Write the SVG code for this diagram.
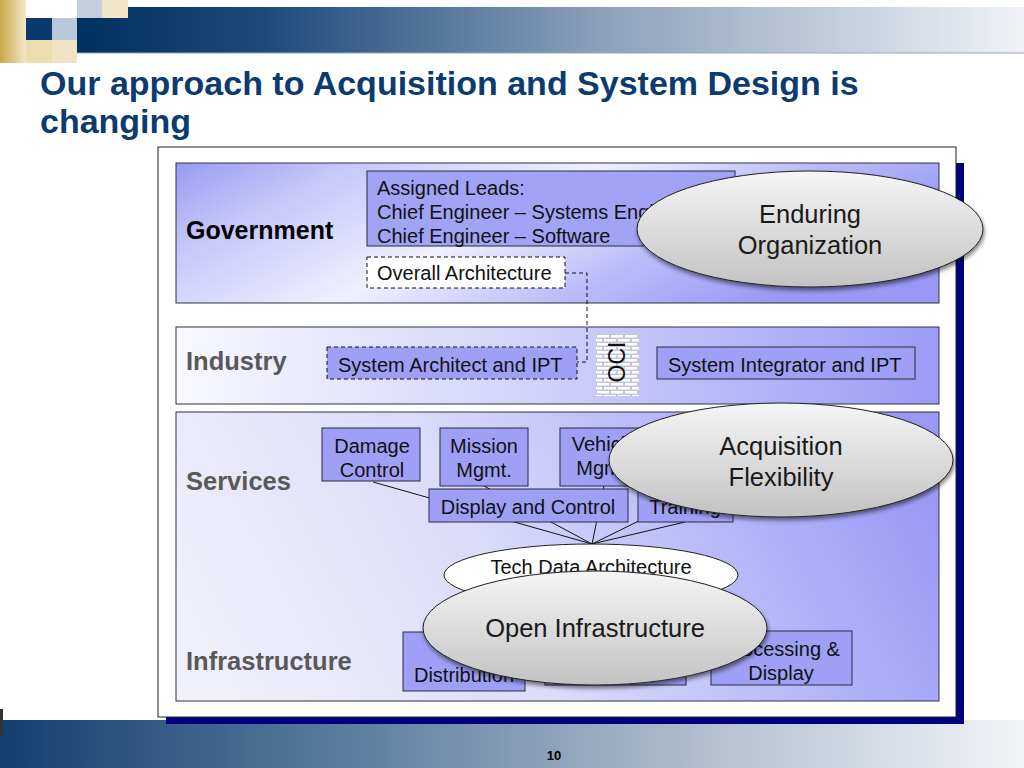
<svg xmlns="http://www.w3.org/2000/svg" width="1024" height="768" viewBox="0 0 1024 768">
<defs>
  <linearGradient id="topbar" x1="0" y1="0" x2="1" y2="0">
    <stop offset="0" stop-color="#00305f"/>
    <stop offset="0.2" stop-color="#1d4b7c"/>
    <stop offset="0.55" stop-color="#8aa0bb"/>
    <stop offset="1" stop-color="#f0f2f6"/>
  </linearGradient>
  <linearGradient id="botbar" x1="0" y1="0" x2="1" y2="0">
    <stop offset="0" stop-color="#123f70"/>
    <stop offset="0.35" stop-color="#5f7fa0"/>
    <stop offset="0.7" stop-color="#b4c1d0"/>
    <stop offset="1" stop-color="#f2f4f7"/>
  </linearGradient>
  <linearGradient id="gold" x1="0" y1="0" x2="1" y2="0">
    <stop offset="0" stop-color="#c8a848"/>
    <stop offset="1" stop-color="#f3e8c8"/>
  </linearGradient>
  <linearGradient id="gov" x1="0" y1="0" x2="1" y2="0.35">
    <stop offset="0" stop-color="#9a9af2"/>
    <stop offset="0.2" stop-color="#c6c6fa"/>
    <stop offset="0.5" stop-color="#f0f0ff"/>
    <stop offset="0.75" stop-color="#bcbcfa"/>
    <stop offset="1" stop-color="#9999f5"/>
  </linearGradient>
  <linearGradient id="ind" x1="0" y1="0" x2="1" y2="0">
    <stop offset="0" stop-color="#f8f8fe"/>
    <stop offset="0.45" stop-color="#d4d4fb"/>
    <stop offset="1" stop-color="#9b9bf6"/>
  </linearGradient>
  <linearGradient id="svc" x1="0" y1="0.6" x2="1" y2="0.4">
    <stop offset="0" stop-color="#f0f0fb"/>
    <stop offset="0.4" stop-color="#dcdcfa"/>
    <stop offset="0.75" stop-color="#b4b4f9"/>
    <stop offset="1" stop-color="#9a9af5"/>
  </linearGradient>
  <linearGradient id="oval" x1="0" y1="0" x2="0" y2="1">
    <stop offset="0" stop-color="#f6f6f6"/>
    <stop offset="1" stop-color="#c2c2c2"/>
  </linearGradient>
  <pattern id="brick" width="14" height="8" patternUnits="userSpaceOnUse" x="596" y="334">
    <rect width="14" height="8" fill="#c6c6da"/>
    <rect x="1" y="1" width="12" height="2.5" fill="#ffffff"/>
    <rect x="-6" y="5" width="12" height="2.5" fill="#ffffff"/>
    <rect x="8" y="5" width="12" height="2.5" fill="#ffffff"/>
  </pattern>
  <filter id="shadow" x="-10%" y="-20%" width="120%" height="150%">
    <feGaussianBlur in="SourceAlpha" stdDeviation="2"/>
    <feOffset dx="1" dy="3" result="b"/>
    <feComponentTransfer><feFuncA type="linear" slope="0.5"/></feComponentTransfer>
    <feMerge><feMergeNode/><feMergeNode in="SourceGraphic"/></feMerge>
  </filter>
</defs>
<style>
  text { font-family: "Liberation Sans", Arial, sans-serif; }
  .title { font-size: 34px; font-weight: bold; fill: #0b3b6f; }
  .lane { font-size: 25.5px; font-weight: bold; fill: #595959; }
  .box { fill: #9f9ff6; stroke: #2a2a40; stroke-width: 1; }
  .t18 { font-size: 20px; fill: #111; }
  .t24 { font-size: 25.5px; fill: #1a1a1a; }
  .mid { text-anchor: middle; }
  .dash { fill: none; stroke: #111; stroke-width: 1; stroke-dasharray: 4 3; }
  .oval { fill: url(#oval); stroke: #222; stroke-width: 1; filter: url(#shadow); }
  .conn { stroke: #111; stroke-width: 1; fill: none; }
</style>

<!-- header decoration -->
<rect x="77" y="7" width="947" height="46" fill="url(#topbar)"/>
<line x1="77" y1="53" x2="1024" y2="53" stroke="#9aa6b4" stroke-width="1"/>
<rect x="0" y="0" width="26" height="63" fill="url(#gold)"/>
<rect x="26" y="40" width="26" height="23" fill="#ecdcae"/>
<rect x="26" y="18" width="26" height="22" fill="#0b3a6e"/>
<rect x="52" y="0" width="25" height="18" fill="#ffffff"/>
<rect x="52" y="18" width="25" height="22" fill="#b9c8da"/>
<rect x="52" y="40" width="25" height="23" fill="#f0e4c4"/>
<rect x="77" y="0" width="25" height="18" fill="#c3cfdd"/>
<rect x="102" y="0" width="26" height="18" fill="#f1e6c8"/>

<text class="title" x="40" y="95">Our approach to Acquisition and System Design is</text>
<text class="title" x="40" y="133">changing</text>

<!-- footer -->
<rect x="0" y="720" width="1024" height="48" fill="url(#botbar)"/>
<rect x="0" y="709" width="3" height="26" fill="#333"/>
<text x="554" y="760" text-anchor="middle" style="font-size:13px;font-weight:bold;fill:#000">10</text>

<!-- frame -->
<rect x="166" y="163" width="798" height="561" fill="#000080"/>
<rect x="158" y="147" width="798" height="570" fill="#ffffff" stroke="#222" stroke-width="1"/>

<!-- lanes -->
<g id="lane-government">
  <rect x="176" y="163" width="763" height="140" fill="url(#gov)" stroke="#333344" stroke-width="1"/>
  <text x="186" y="239" style="font-size:25px;font-weight:bold;fill:#000">Government</text>
</g>
<g id="lane-industry">
  <rect x="176" y="327" width="763" height="77" fill="url(#ind)" stroke="#333344" stroke-width="1"/>
  <text class="lane" x="186" y="370">Industry</text>
</g>
<g id="lane-services">
  <rect x="176" y="412" width="763" height="289" fill="url(#svc)" stroke="#333344" stroke-width="1"/>
  <text class="lane" x="186" y="490">Services</text>
  <text class="lane" x="186" y="670">Infrastructure</text>
</g>

<!-- connectors -->
<g id="connectors">
  <path class="dash" d="M565,273 H587 V362 H577"/>
  <line class="conn" x1="373" y1="482" x2="592" y2="544"/>
  <line class="conn" x1="484" y1="486" x2="592" y2="544"/>
  <line class="conn" x1="604" y1="486" x2="592" y2="544"/>
  <line class="conn" x1="710" y1="486" x2="592" y2="544"/>
  <line class="conn" x1="685" y1="522" x2="592" y2="544"/>
</g>

<g id="assigned-leads">
  <rect x="367" y="171" width="368" height="75" fill="#a3a3f6" stroke="#2a2a40" stroke-width="1"/>
  <text class="t18" x="377" y="195">Assigned Leads:</text>
  <text class="t18" x="377" y="219">Chief Engineer – Systems Engineering</text>
  <text class="t18" x="377" y="243">Chief Engineer – Software</text>
</g>
<g id="overall-architecture">
  <rect x="367" y="257" width="198" height="31" fill="#ffffff" stroke="#111" stroke-width="1" stroke-dasharray="4 3"/>
  <text class="t18" x="377" y="280">Overall Architecture</text>
</g>
<g id="system-architect">
  <rect x="327" y="347" width="250" height="32" fill="#9f9ff6" stroke="#111" stroke-width="1" stroke-dasharray="4 3"/>
  <text class="t18" x="338" y="372">System Architect and IPT</text>
</g>
<g id="oci">
  <rect x="596" y="334" width="43" height="62" fill="url(#brick)"/>
  <text transform="translate(625,362) rotate(-90)" text-anchor="middle" style="font-size:23px;fill:#111">OCI</text>
</g>
<g id="system-integrator">
  <rect class="box" x="657" y="347" width="258" height="32"/>
  <text class="t18" x="668" y="372">System Integrator and IPT</text>
</g>

<g id="damage-control">
  <rect class="box" x="322" y="428" width="98" height="53"/>
  <text class="t18 mid" x="372" y="453">Damage</text>
  <text class="t18 mid" x="372" y="477">Control</text>
</g>
<g id="mission-mgmt">
  <rect class="box" x="440" y="428" width="88" height="58"/>
  <text class="t18 mid" x="484" y="453">Mission</text>
  <text class="t18 mid" x="484" y="477">Mgmt.</text>
</g>
<g id="vehicle-mgmt">
  <rect class="box" x="560" y="428" width="88" height="58"/>
  <text class="t18 mid" x="604" y="451">Vehicle</text>
  <text class="t18 mid" x="604" y="475">Mgmt.</text>
</g>
<g id="display-control">
  <rect class="box" x="429" y="489" width="199" height="33"/>
  <text class="t18 mid" x="528" y="514">Display and Control</text>
</g>
<g id="training">
  <rect class="box" x="638" y="489" width="95" height="33"/>
  <text class="t18 mid" x="685" y="514">Training</text>
</g>

<g id="distribution">
  <rect class="box" x="403" y="632" width="122" height="59"/>
  <text class="t18 mid" x="464" y="682">Distribution</text>
</g>
<g id="infra-middle">
  <rect class="box" x="545" y="632" width="141" height="53"/>
</g>
<g id="processing-display">
  <rect class="box" x="711" y="631" width="141" height="54"/>
  <text class="t18 mid" x="781" y="656">Processing &amp;</text>
  <text class="t18 mid" x="781" y="680">Display</text>
</g>

<g id="tech-data-architecture">
  <ellipse cx="591" cy="575" rx="147" ry="31" fill="#ffffff" stroke="#222" stroke-width="1"/>
  <text class="t18 mid" x="591" y="574">Tech Data Architecture</text>
</g>

<g id="open-infrastructure">
  <ellipse class="oval" cx="595" cy="628" rx="172" ry="57"/>
  <text class="t24 mid" x="595" y="637">Open Infrastructure</text>
</g>
<g id="acquisition-flexibility">
  <ellipse class="oval" cx="781" cy="460" rx="172" ry="57"/>
  <text class="t24 mid" x="781" y="455">Acquisition</text>
  <text class="t24 mid" x="781" y="486">Flexibility</text>
</g>
<g id="enduring-organization">
  <ellipse class="oval" cx="810" cy="229" rx="173" ry="58"/>
  <text class="t24 mid" x="810" y="223">Enduring</text>
  <text class="t24 mid" x="810" y="254">Organization</text>
</g>
</svg>
